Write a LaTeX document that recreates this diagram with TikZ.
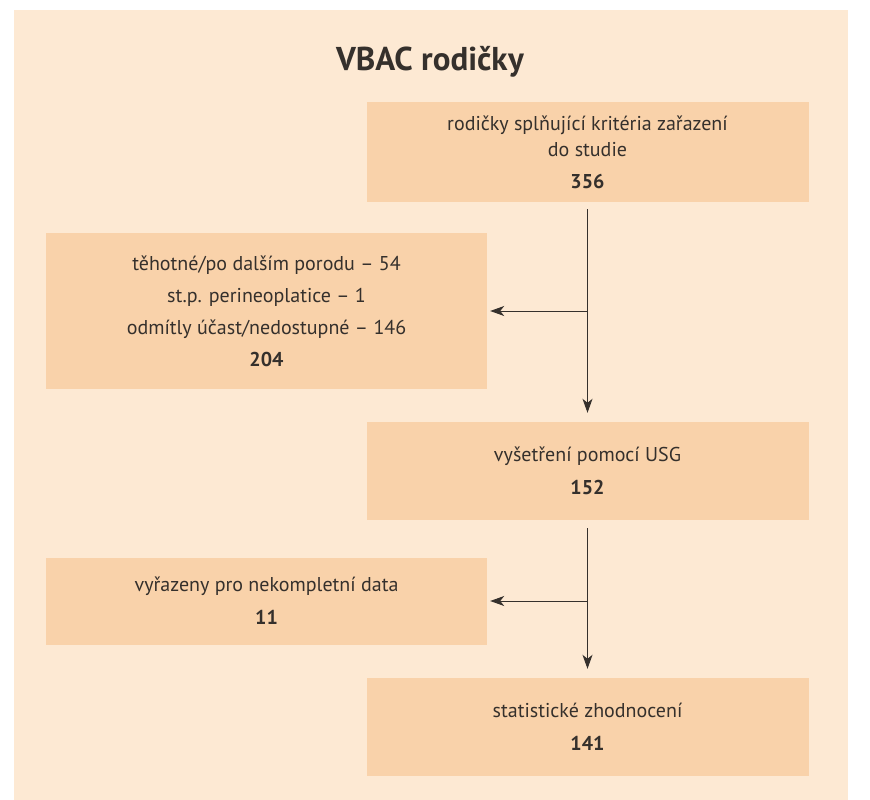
\documentclass[tikz,border=0pt]{standalone}
\usepackage{fontspec}
\setmainfont{PT Sans}
\usetikzlibrary{arrows.meta}
\definecolor{panel}{HTML}{FDE9D3}
\definecolor{boxfill}{HTML}{F9D2AA}
\definecolor{ink}{HTML}{35302C}
\tikzset{
	flowbox/.style={fill=boxfill, inner sep=0pt, align=center, text=ink,
		font=\fontsize{20}{26}\selectfont},
	flowarrow/.style={draw=ink, line width=0.9pt, -{Stealth[length=14pt,width=10pt,inset=4pt]}}
}
\newcommand{\boxnum}[1]{\textbf{#1}}

\begin{document}
\begin{tikzpicture}[x=1pt, y=-1pt]

	% page and panel
	\useasboundingbox (0,0) rectangle (870,800);
	\fill[white] (0,0) rectangle (870,800);
	\fill[panel] (14,10) rectangle (848,800);

	\node[text=ink, font=\fontsize{33}{36}\selectfont\bfseries] (title) at (430,62) {VBAC rodičky};

	% boxes on the main line
	\node[flowbox, minimum width=442pt, minimum height=100pt] (crit)   at (587.5,152) {rodičky splňující kritéria zařazení\\ do studie\\[6pt] \boxnum{356}};
	\node[flowbox, minimum width=442pt, minimum height=98pt]  (usg)    at (587.5,471) {vyšetření pomocí USG\\[7pt] \boxnum{152}};
	\node[flowbox, minimum width=442pt, minimum height=98pt]  (stat)   at (587.5,727) {statistické zhodnocení\\[7pt] \boxnum{141}};

	% excluded
	\node[flowbox, minimum width=441pt, minimum height=156pt] (excl)   at (266.5,311) {těhotné/po dalším porodu – 54\\[6pt] st.p. perineoplatice – 1\\[6pt] odmítly účast/nedostupné – 146\\[6pt] \boxnum{204}};
	\node[flowbox, minimum width=441pt, minimum height=87pt]  (incomp) at (266.5,601) {vyřazeny pro nekompletní data\\[7pt] \boxnum{11}};

	% arrows
	\draw[flowarrow, shorten <=7pt, shorten >=9pt] (crit.south) -- (usg.north);
	\draw[flowarrow, shorten >=3pt] (crit.south |- excl.east) -- (excl.east);
	\draw[flowarrow, shorten <=8pt, shorten >=9pt] (usg.south) -- (stat.north);
	\draw[flowarrow, shorten >=3pt] (usg.south |- incomp.east) -- (incomp.east);

\end{tikzpicture}
\end{document}
